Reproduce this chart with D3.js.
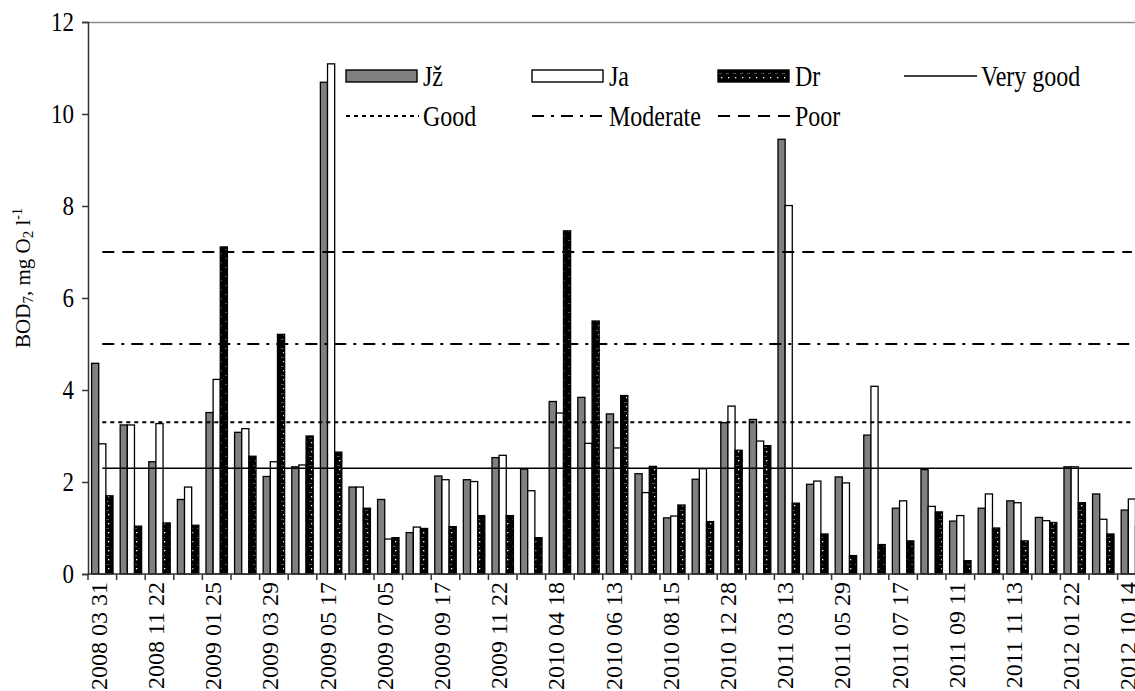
<!DOCTYPE html>
<html>
<head>
<meta charset="utf-8">
<script src="https://cdnjs.cloudflare.com/ajax/libs/d3/7.8.5/d3.min.js"></script>
<style>
  body { margin: 0; background: #fff; }
  svg { display: block; overflow: hidden; }
  svg text { font-family: "Liberation Serif", "DejaVu Serif", "Times New Roman", serif !important; fill: #000; }
</style>
</head>
<body>
<div id="chart"></div>
<script>
// sampling dates, only every second one is labelled on the axis
var dates = [
  '2008 03 31', '', '2008 11 22', '', '2009 01 25', '', '2009 03 29', '', '2009 05 17', '',
  '2009 07 05', '', '2009 09 17', '', '2009 11 22', '', '2010 04 18', '', '2010 06 13', '',
  '2010 08 15', '', '2010 12 28', '', '2011 03 13', '', '2011 05 29', '', '2011 07 17', '',
  '2011 09 11', '', '2011 11 13', '', '2012 01 22', '', '2012 10 14'
]

var seriesNames = ['Jž', 'Ja', 'Dr']

var jz = [4.58, 3.24, 2.44, 1.62, 3.51, 3.08, 2.12, 2.33, 10.69, 1.89,
          1.62, 0.90, 2.13, 2.05, 2.53, 2.28, 3.75, 3.84, 3.48, 2.18,
          1.22, 2.06, 3.29, 3.36, 9.45, 1.95, 2.11, 3.02, 1.43, 2.27,
          1.15, 1.43, 1.59, 1.23, 2.33, 1.74, 1.39]
var ja = [2.83, 3.24, 3.27, 1.89, 4.23, 3.16, 2.44, 2.37, 11.09, 1.89,
          0.76, 1.02, 2.05, 2.01, 2.58, 1.81, 3.50, 2.84, 2.74, 1.77,
          1.26, 2.29, 3.65, 2.89, 8.01, 2.02, 1.98, 4.08, 1.59, 1.47,
          1.27, 1.74, 1.55, 1.16, 2.33, 1.19, 1.63]
var dr = [1.70, 1.04, 1.11, 1.06, 7.11, 2.56, 5.21, 3.00, 2.65, 1.43,
          0.79, 0.99, 1.03, 1.27, 1.27, 0.79, 7.46, 5.50, 3.88, 2.34,
          1.50, 1.14, 2.69, 2.79, 1.54, 0.87, 0.40, 0.64, 0.72, 1.35,
          0.29, 1.00, 0.72, 1.12, 1.55, 0.87, 1.04]

// water quality class limits
var classNames = ['Very good', 'Good', 'Moderate', 'Poor']
var classLimits = [2.3, 3.3, 5.0, 7.0]

var yTicks = [0, 2, 4, 6, 8, 10, 12]

const W = 1135, H = 691
const margin = { top: 22, left: 88, bottom: 117 }
const step = 28.6
const plotBottom = H - margin.bottom
const FONT = '"Liberation Serif", "DejaVu Serif", "Times New Roman", serif'
const TALL = 'scale(1,1.2)'   // the original text is a bit taller than wide

var svg = d3.select('#chart')
  .append('svg')
  .attr('width', W)
  .attr('height', H)
  .attr('font-family', FONT)

var defs = svg.append('defs')
var pat = defs.append('pattern')
  .attr('id', 'dots')
  .attr('patternUnits', 'userSpaceOnUse')
  .attr('width', 7)
  .attr('height', 9)
pat.append('rect').attr('width', 7).attr('height', 9).attr('fill', '#000')
pat.append('rect').attr('x', 3).attr('y', 1).attr('width', 1.3).attr('height', 1.3).attr('fill', '#fff')
pat.append('rect').attr('x', 1).attr('y', 6).attr('width', 3).attr('height', 0.8).attr('fill', '#666')

var x = d3.scaleBand()
  .domain(d3.range(dates.length))
  .range([margin.left, margin.left + step * dates.length])
  .padding(0)

var xs = d3.scaleBand()
  .domain(seriesNames)
  .range([0, x.bandwidth()])
  .paddingInner(0)
  .paddingOuter(0.5)

var y = d3.scaleLinear()
  .domain([0, 12])
  .range([plotBottom, margin.top])

var fills = { 'Jž': '#808080', 'Ja': '#ffffff', 'Dr': 'url(#dots)' }
var values = { 'Jž': jz, 'Ja': ja, 'Dr': dr }
var dashes = { 'Very good': null, 'Good': '4,4', 'Moderate': '12,7,3,7', 'Poor': '12,8' }
var widths = { 'Very good': 1.5, 'Good': 2, 'Moderate': 2.2, 'Poor': 2 }

// top border of the plot area
svg.append('line')
  .attr('x1', margin.left).attr('x2', W)
  .attr('y1', margin.top + 0.5).attr('y2', margin.top + 0.5)
  .attr('stroke', '#8c8c8c')
  .attr('stroke-width', 1.5)

// bars
seriesNames.forEach(function(s) {
  svg.append('g')
    .selectAll('rect')
    .data(values[s])
    .enter()
    .append('rect')
    .attr('x', function(d, i) { return x(i) + xs(s) })
    .attr('y', function(d) { return y(d) })
    .attr('width', xs.bandwidth())
    .attr('height', function(d) { return y(0) - y(d) })
    .attr('fill', fills[s])
    .attr('stroke', '#000')
    .attr('stroke-width', 1.3)
})

// class limit lines, drawn like line series across all dates
var line = d3.line()
  .x(function(d, i) { return x(i) + x.bandwidth() / 2 })
  .y(function(d) { return y(d) })

classNames.forEach(function(c, k) {
  svg.append('path')
    .datum(dates.map(function() { return classLimits[k] }))
    .attr('d', line)
    .attr('fill', 'none')
    .attr('stroke', '#000')
    .attr('stroke-width', widths[c])
    .attr('stroke-dasharray', dashes[c])
})

// y axis
var yAxis = svg.append('g')
  .attr('transform', 'translate(' + margin.left + ',0)')
  .call(d3.axisLeft(y).tickValues(yTicks).tickSize(6).tickPadding(8))
yAxis.attr('font-family', FONT).attr('font-size', 23)
yAxis.select('.domain').attr('stroke', '#333').attr('stroke-width', 1.5)
yAxis.selectAll('.tick line').attr('stroke', '#333').attr('stroke-width', 1.5)
yAxis.selectAll('text').attr('fill', '#000').attr('transform', TALL)

// x axis: baseline, ticks between groups, rotated date labels
svg.append('line')
  .attr('x1', margin.left).attr('x2', W)
  .attr('y1', plotBottom).attr('y2', plotBottom)
  .attr('stroke', '#333')
  .attr('stroke-width', 1.5)

svg.append('g')
  .selectAll('line')
  .data(d3.range(dates.length + 1))
  .enter()
  .append('line')
  .attr('x1', function(i) { return margin.left + i * step })
  .attr('x2', function(i) { return margin.left + i * step })
  .attr('y1', plotBottom)
  .attr('y2', plotBottom + 6)
  .attr('stroke', '#333')
  .attr('stroke-width', 1.5)

svg.append('g')
  .selectAll('text')
  .data(dates)
  .enter()
  .append('text')
  .attr('transform', function(d, i) {
    return 'translate(' + (x(i) + x.bandwidth() / 2 - 4) + ',' + (plotBottom + 8) + ') rotate(-90)'
  })
  .attr('text-anchor', 'end')
  .attr('dy', '0.35em')
  .attr('font-size', 24)
  .text(function(d) { return d })

// y axis title with sub/superscripts
var yTitle = svg.append('text')
  .attr('transform', 'translate(30,' + 278 + ') rotate(-90)')
  .attr('text-anchor', 'middle')
  .attr('font-size', 21)
yTitle.append('tspan').text('BOD')
yTitle.append('tspan').attr('font-size', 15).attr('dy', 3).text('7')
yTitle.append('tspan').attr('dy', -3).text(', mg O')
yTitle.append('tspan').attr('font-size', 15).attr('dy', 3).text('2')
yTitle.append('tspan').attr('dy', -3).text(' l')
yTitle.append('tspan').attr('font-size', 14).attr('dy', -8).text('-1')

// legend
var legendItems = [
  { name: 'Jž', kind: 'bar', x: 346, y: 76 },
  { name: 'Ja', kind: 'bar', x: 532, y: 76 },
  { name: 'Dr', kind: 'bar', x: 718, y: 76 },
  { name: 'Very good', kind: 'line', x: 904, y: 76 },
  { name: 'Good', kind: 'line', x: 346, y: 116 },
  { name: 'Moderate', kind: 'line', x: 532, y: 116 },
  { name: 'Poor', kind: 'line', x: 718, y: 116 }
]

var legend = svg.append('g')
legendItems.forEach(function(it) {
  var g = legend.append('g').attr('transform', 'translate(' + it.x + ',' + it.y + ')')
  if (it.kind === 'bar') {
    g.append('rect')
      .attr('x', 0).attr('y', -6)
      .attr('width', 71).attr('height', 12)
      .attr('fill', fills[it.name])
      .attr('stroke', '#000')
      .attr('stroke-width', 1.4)
  } else {
    g.append('line')
      .attr('x1', 0).attr('x2', 73)
      .attr('y1', 0).attr('y2', 0)
      .attr('stroke', '#000')
      .attr('stroke-width', widths[it.name])
      .attr('stroke-dasharray', dashes[it.name])
  }
  g.append('text')
    .attr('x', 77)
    .attr('dy', '0.35em')
    .attr('font-size', 24)
    .attr('transform', TALL)
    .text(it.name)
})
</script>
</body>
</html>
